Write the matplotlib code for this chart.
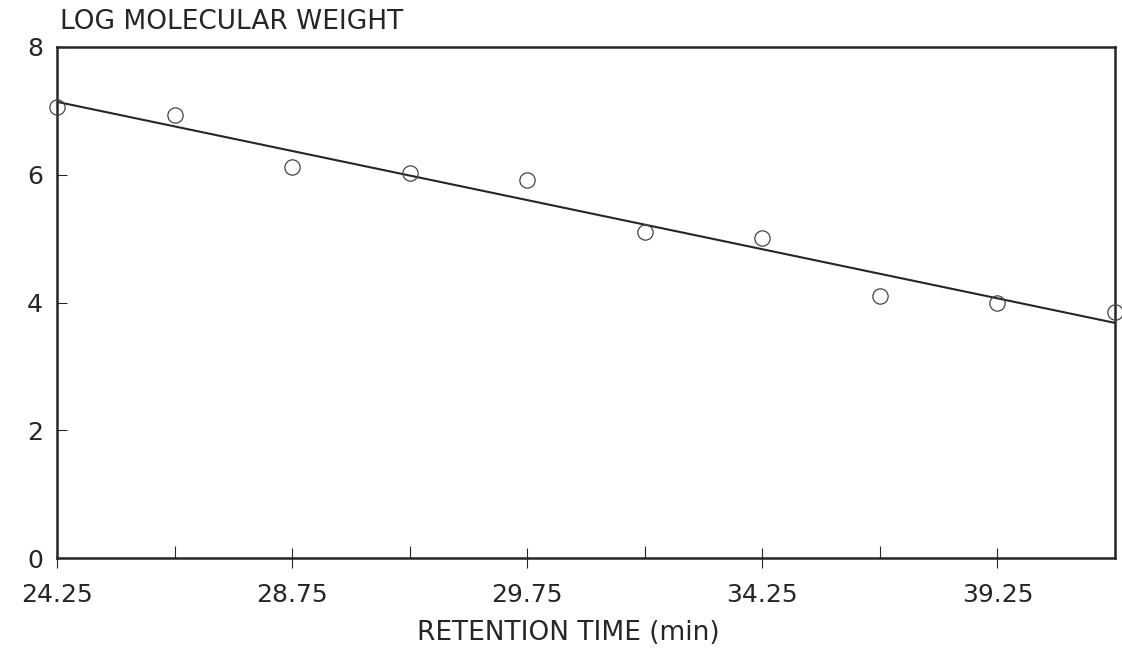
import numpy as np
import matplotlib
matplotlib.use("Agg")
import matplotlib.pyplot as plt

# data (points sit on equally spaced tick positions)
x_pos = [0, 1, 2, 3, 4, 5, 6, 7, 8, 9]
log_mw = [7.06, 6.93, 6.12, 6.03, 5.92, 5.10, 5.01, 4.10, 3.99, 3.85]
x_tick_labels = ["24.25", "28.75", "29.75", "34.25", "39.25"]
y_ticks = [0, 2, 4, 6, 8]

plt.rcParams["font.family"] = ["DejaVu Sans"]
ink = "#262626"

fig = plt.figure(figsize=(11.22, 6.5), dpi=100)
ax = fig.add_axes([57 / 1122, 1 - 558 / 650, (1115 - 57) / 1122, (558 - 47) / 650])

# least squares line through the points
slope, icpt = np.polyfit(x_pos, log_mw, 1)
xs = np.array([x_pos[0], x_pos[-1]])
ax.plot(xs, icpt + slope * xs, color=ink, lw=1.5, zorder=2)

ax.plot(x_pos, log_mw, "o", ms=11, mfc="none", mec="#444444", mew=0.9,
        clip_on=False, zorder=3)

ax.set_xlim(0, 9)
ax.set_ylim(0, 8)

for s in ax.spines.values():
    s.set_linewidth(1.8)
    s.set_color(ink)

# labelled x ticks cross the axis, the others point inward
ax.set_xticks(x_pos[::2])
ax.set_xticklabels(x_tick_labels)
ax.set_xticks(x_pos[1::2], minor=True)
ax.tick_params(axis="x", which="major", direction="inout", length=14, width=0.8,
               pad=11, labelsize=18, colors=ink)
ax.tick_params(axis="x", which="minor", direction="in", length=9, width=0.8, colors=ink)

ax.set_yticks(y_ticks)
ax.tick_params(axis="y", direction="in", length=7, width=0.8, pad=10,
               labelsize=18, colors=ink)

fig.text(60 / 1122, 1 - 22 / 650, "LOG MOLECULAR WEIGHT", ha="left", va="center",
         fontsize=19, color=ink)
fig.text(568 / 1122, 1 - 633 / 650, "RETENTION TIME (min)", ha="center", va="center",
         fontsize=19, color=ink)

fig.savefig("out.png", dpi=100, facecolor="white")
